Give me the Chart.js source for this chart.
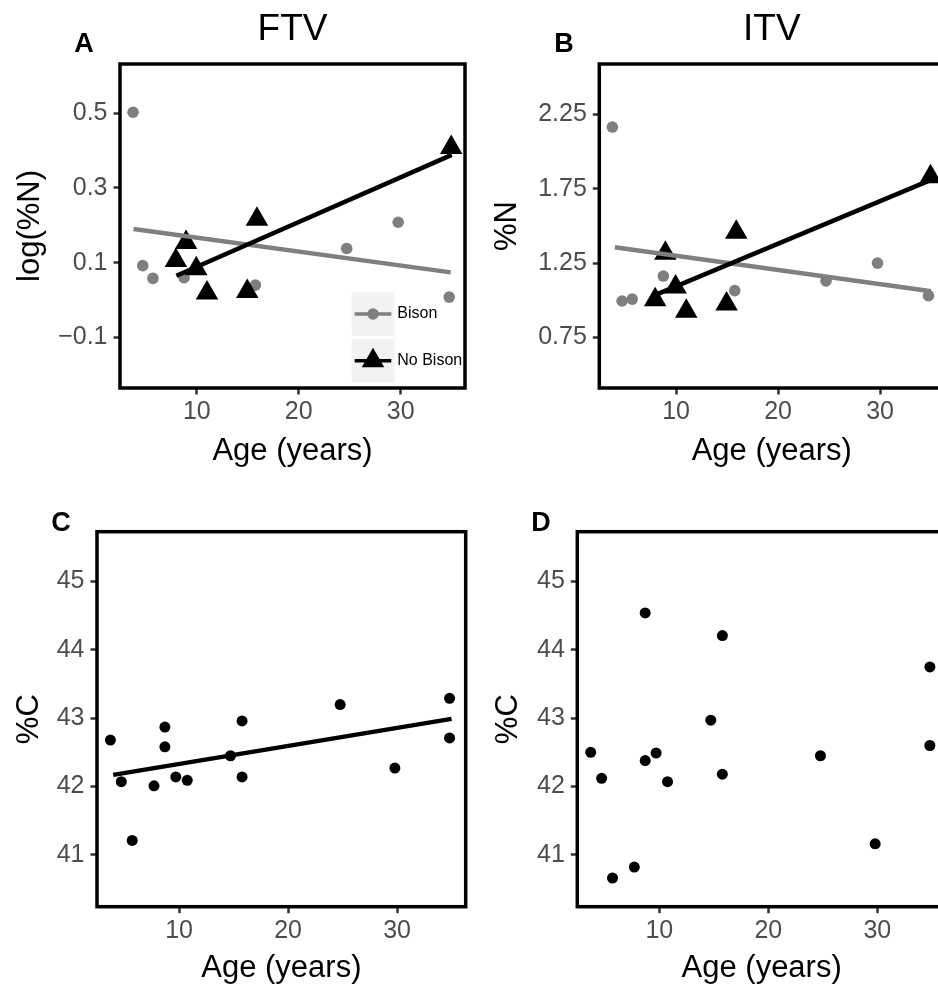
<!DOCTYPE html>
<html>
<head>
<meta charset="utf-8">
<script src="https://cdn.jsdelivr.net/npm/chart.js@4.4.1/dist/chart.umd.min.js"></script>
<style>
  html, body { margin: 0; padding: 0; background: #fff; overflow: hidden; }
  body { width: 938px; height: 984px; position: relative; }
  canvas { position: absolute; }
</style>
</head>
<body>
<canvas id="chartA" width="470" height="480" style="left:0;top:0"></canvas>
<canvas id="chartB" width="480" height="480" style="left:470px;top:0"></canvas>
<canvas id="chartC" width="470" height="500" style="left:0;top:490px"></canvas>
<canvas id="chartD" width="480" height="500" style="left:470px;top:490px"></canvas>
<script>
// --- data ---
const agesBison = [3.75, 4.7, 5.7, 8.75, 15.75, 24.7, 29.75, 34.75];
const agesNoBison = [7.95, 8.95, 9.95, 11.0, 14.95, 15.9, 34.95];

const ftvBison = [0.502, 0.092, 0.058, 0.060, 0.040, 0.138, 0.208, 0.008];
const ftvNoBison = [0.106, 0.154, 0.084, 0.019, 0.023, 0.216, 0.408];
const itvBison = [2.165, 0.995, 1.008, 1.163, 1.065, 1.13, 1.25, 1.031];
const itvNoBison = [1.004, 1.316, 1.089, 0.927, 0.975, 1.458, 1.83];

// fitted lines (end points)
const ftvBisonFitX = [3.8, 34.9];
const ftvBisonFitY = [0.19, 0.074];
const ftvNoBisonFitX = [8.0, 35.0];
const ftvNoBisonFitY = [0.065, 0.388];
const itvBisonFitX = [4.0, 35.0];
const itvBisonFitY = [1.357, 1.06];
const itvNoBisonFitX = [8.1, 35.0];
const itvNoBisonFitY = [1.04, 1.81];

const agesC = [3.7, 4.7, 5.7, 7.7, 8.7, 8.7, 9.7, 10.75, 14.72, 15.78, 15.78, 24.78, 29.8, 34.82, 34.82];
const carbonFTV = [42.68, 42.07, 41.21, 42.01, 42.87, 42.58, 42.14, 42.09, 42.45, 42.96, 42.14, 43.2, 42.27, 43.29, 42.71];
const carbonITV = [42.50, 42.12, 40.66, 40.82, 44.54, 42.38, 42.49, 42.07, 42.97, 44.21, 42.18, 42.45, 41.16, 43.75, 42.60];
const carbonFitX = [3.96, 35.0];
const carbonFitY = [42.17, 42.99];

const ageTicks = [10, 20, 30];
const ftvTicks = [-0.1, 0.1, 0.3, 0.5];
const ftvTickLabels = ['\u22120.1', '0.1', '0.3', '0.5'];
const itvTicks = [0.75, 1.25, 1.75, 2.25];
const itvTickLabels = ['0.75', '1.25', '1.75', '2.25'];
const carbonTicks = [41, 42, 43, 44, 45];
const carbonTickLabels = ['41', '42', '43', '44', '45'];

const legendLabels = ['Bison', 'No Bison'];

Chart.defaults.font.family = "'Liberation Sans', Arial, Helvetica, sans-serif";

function pts(xs, ys) {
  return xs.map((x, i) => ({x: x, y: ys[i]}));
}

function lineSet(label, xs, ys, color) {
  return {label: label, data: pts(xs, ys), showLine: true, borderColor: color, borderWidth: 4.5,
    pointRadius: 0, clip: false};
}

function pointSet(label, xs, ys, color, style, r) {
  return {label: label, data: pts(xs, ys), pointStyle: style, pointRadius: r, backgroundColor: color,
    borderColor: color, borderWidth: 0, clip: false};
}

// frame around the plotting panel
const framePlugin = {
  id: 'frame',
  afterDatasetsDraw(chart) {
    const ca = chart.chartArea;
    const ctx = chart.ctx;
    ctx.save();
    ctx.lineWidth = 3.5;
    ctx.strokeStyle = '#000';
    ctx.strokeRect(ca.left, ca.top, ca.right - ca.left, ca.bottom - ca.top);
    ctx.restore();
  }
};

// panel letter (A, B, C, D)
const tagPlugin = {
  id: 'panelTag',
  afterDraw(chart, args, opts) {
    const ctx = chart.ctx;
    ctx.save();
    ctx.font = 'bold 27px ' + Chart.defaults.font.family;
    ctx.fillStyle = '#000';
    ctx.textAlign = 'center';
    ctx.textBaseline = 'middle';
    ctx.fillText(opts.text, opts.x, opts.y);
    ctx.restore();
  }
};

// legend keys drawn inside panel A
const keyPlugin = {
  id: 'keyBox',
  afterDatasetsDraw(chart, args, opts) {
    const ctx = chart.ctx;
    ctx.save();
    legendLabels.forEach((lab, i) => {
      const p = chart.data.datasets.find(d => d.label === lab && !d.showLine);
      const l = chart.data.datasets.find(d => d.label === lab && d.showLine);
      const top = opts.y + i * (opts.h + opts.gap);
      const cx = opts.x + opts.w / 2;
      const cy = top + opts.h / 2;
      ctx.fillStyle = '#f2f2f2';
      ctx.fillRect(opts.x, top, opts.w, opts.h);
      ctx.strokeStyle = l.borderColor;
      ctx.lineWidth = 3.5;
      ctx.beginPath();
      ctx.moveTo(opts.x + 3, cy);
      ctx.lineTo(opts.x + opts.w - 3, cy);
      ctx.stroke();
      ctx.fillStyle = p.backgroundColor;
      Chart.helpers.drawPoint(ctx, {pointStyle: p.pointStyle, radius: p.pointRadius, rotation: 0, borderWidth: 0}, cx, cy);
      ctx.fillStyle = '#000';
      ctx.font = '16px ' + Chart.defaults.font.family;
      ctx.textAlign = 'left';
      ctx.textBaseline = 'middle';
      ctx.fillText(lab, opts.x + opts.w + 3, cy);
    });
    ctx.restore();
  }
};

function makeChart(id, o) {
  const cv = document.getElementById(id);
  const a = o.area;
  const titleLH = 37 * 1.2;
  const plugins = [framePlugin, tagPlugin];
  if (o.legend) plugins.push(keyPlugin);
  return new Chart(cv, {
    type: 'scatter',
    data: {datasets: o.datasets},
    options: {
      responsive: false,
      animation: false,
      devicePixelRatio: 1,
      events: [],
      layout: {
        autoPadding: false,
        padding: {left: 0, right: cv.width - a.right, top: o.title ? 0 : a.top, bottom: 0}
      },
      plugins: {
        legend: {display: false},
        tooltip: {enabled: false},
        title: {
          display: !!o.title, text: o.title || '', fullSize: false, color: '#000',
          font: {size: 37, weight: 'normal'},
          padding: {top: o.titleY - titleLH / 2, bottom: a.top - titleLH - (o.titleY - titleLH / 2)}
        },
        panelTag: {text: o.tag, x: o.tagX, y: o.tagY},
        keyBox: o.legend || {}
      },
      scales: {
        x: {
          type: 'linear', min: 2.47, max: 36.3,
          afterBuildTicks: s => { s.ticks = ageTicks.map(v => ({value: v})); },
          afterFit: s => {
            s.height = cv.height - a.bottom;
            s.paddingLeft = 0; s.paddingRight = 0;
          },
          ticks: {color: '#4d4d4d', font: {size: 25}, padding: 3, maxRotation: 0, autoSkip: false,
            callback: v => String(v)},
          grid: {display: true, drawOnChartArea: false, drawTicks: true, tickLength: 6.5, tickWidth: 2.5, tickColor: '#333'},
          border: {display: false},
          title: {display: true, text: 'Age (years)', color: '#000', font: {size: 31},
            padding: {top: 0, bottom: cv.height - o.xTitleY - 31 * 1.2 / 2}}
        },
        y: {
          type: 'linear', min: o.yMin, max: o.yMax,
          afterBuildTicks: s => { s.ticks = o.yTicks.map(v => ({value: v})); },
          afterFit: s => {
            s.width = a.left;
            s.paddingTop = 0; s.paddingBottom = 0;
          },
          ticks: {color: '#4d4d4d', font: {size: 25}, padding: 6, autoSkip: false,
            callback: (v, i) => o.yLabels[i]},
          grid: {display: true, drawOnChartArea: false, drawTicks: true, tickLength: 6.5, tickWidth: 2.5, tickColor: '#333'},
          border: {display: false},
          title: {display: true, text: o.yTitle, color: '#000', font: {size: 31},
            padding: {top: o.yTitleX - 31 * 1.2 / 2, bottom: 0}}
        }
      }
    },
    plugins: plugins
  });
}

const grey = '#7f7f7f';
const black = '#000000';

makeChart('chartA', {
  area: {left: 120, top: 64, right: 465, bottom: 388},
  title: 'FTV', titleY: 30,
  tag: 'A', tagX: 84, tagY: 45,
  yTitle: 'log(%N)', yTitleX: 30, xTitleY: 451,
  yMin: -0.235, yMax: 0.631, yTicks: ftvTicks, yLabels: ftvTickLabels,
  legend: {x: 351.7, y: 292.3, w: 42.6, h: 43.4, gap: 3.3},
  datasets: [
    lineSet('No Bison', ftvNoBisonFitX, ftvNoBisonFitY, black),
    lineSet('Bison', ftvBisonFitX, ftvBisonFitY, grey),
    pointSet('No Bison', agesNoBison, ftvNoBison, black, 'triangle', 13),
    pointSet('Bison', agesBison, ftvBison, grey, 'circle', 5.8)
  ]
});

makeChart('chartB', {
  area: {left: 129.3, top: 64, right: 474.3, bottom: 388},
  title: 'ITV', titleY: 30,
  tag: 'B', tagX: 94, tagY: 45,
  yTitle: '%N', yTitleX: 37.5, xTitleY: 451,
  yMin: 0.41, yMax: 2.589, yTicks: itvTicks, yLabels: itvTickLabels,
  datasets: [
    lineSet('No Bison', itvNoBisonFitX, itvNoBisonFitY, black),
    lineSet('Bison', itvBisonFitX, itvBisonFitY, grey),
    pointSet('No Bison', agesNoBison, itvNoBison, black, 'triangle', 13),
    pointSet('Bison', agesBison, itvBison, grey, 'circle', 5.8)
  ]
});

makeChart('chartC', {
  area: {left: 97, top: 41.7, right: 465.7, bottom: 416.7},
  tag: 'C', tagX: 61, tagY: 34,
  yTitle: '%C', yTitleX: 29, xTitleY: 478,
  yMin: 40.24, yMax: 45.73, yTicks: carbonTicks, yLabels: carbonTickLabels,
  datasets: [
    lineSet('fit', carbonFitX, carbonFitY, black),
    pointSet('FTV', agesC, carbonFTV, black, 'circle', 5.5)
  ]
});

makeChart('chartD', {
  area: {left: 107.3, top: 41.7, right: 476, bottom: 416.7},
  tag: 'D', tagX: 71, tagY: 34,
  yTitle: '%C', yTitleX: 38, xTitleY: 478,
  yMin: 40.24, yMax: 45.73, yTicks: carbonTicks, yLabels: carbonTickLabels,
  datasets: [
    pointSet('ITV', agesC, carbonITV, black, 'circle', 5.5)
  ]
});
</script>
</body>
</html>
